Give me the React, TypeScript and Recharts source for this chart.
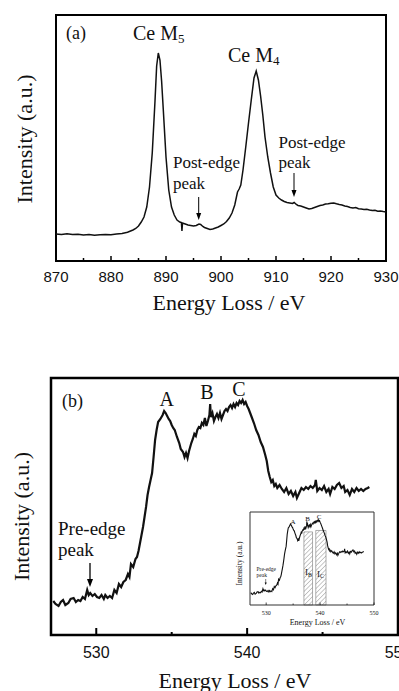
import { LineChart, Line, XAxis, YAxis, ReferenceArea } from "recharts";

// panel (a): Ce M4,5 edge
const aEnergy = [
  870, 871, 872, 873, 874, 875, 876, 877, 878, 879,
  880, 881, 882, 883, 884, 884.5, 885, 885.5, 886, 886.5,
  887, 887.5, 888, 888.3, 888.6, 888.9, 889.2, 889.5, 890, 890.5,
  891, 891.5, 892, 892.5, 892.8, 892.9, 893.0, 893.5, 894, 894.5,
  895, 895.5, 896, 896.3, 896.7, 897, 897.5, 898, 898.5, 899,
  899.5, 900, 900.5, 901, 901.5, 902, 902.5, 903, 903.3, 903.6,
  904, 904.5, 905, 905.5, 906, 906.4, 906.8, 907.2, 907.6, 908,
  908.5, 909, 909.5, 910, 910.5, 911, 911.5, 912, 912.5, 913,
  913.3, 913.7, 914, 914.5, 915, 915.5, 916, 916.5, 917, 917.5,
  918, 918.5, 919, 919.5, 920, 920.5, 921, 921.5, 922, 922.5,
  923, 923.5, 924, 924.5, 925, 925.5, 926, 926.5, 927, 927.5,
  928, 928.5, 929, 929.5, 930,
];
const aIntensity = [
  27, 26.5, 27.2, 26.4, 26.8, 26, 26.5, 25.8, 26.3, 26.6,
  26.2, 27, 27.6, 28.8, 31, 32.5, 35, 39, 44, 54,
  74, 108, 160, 195, 208, 201, 180, 152, 104, 71,
  54, 46, 41, 39, 38.5, 30, 38, 37, 36, 35.5,
  35, 35.5, 37, 36.5, 34.5, 33.5, 32.5, 31.5, 32, 33,
  34, 35.5, 37, 39.5, 43, 48, 56, 69, 72, 76,
  91, 114, 138, 161, 183, 190, 181, 165, 146, 124,
  104, 88, 74, 66, 63, 61, 59.5, 58.5, 58, 57.5,
  58.5, 56.5, 55.5, 55, 54, 53, 52, 52.5, 53.5, 54.5,
  55.5, 56, 57, 57.2, 57.8, 58, 57.2, 56.5, 56, 55,
  54.5, 53.5, 53, 53.5, 52.3, 52, 51.5, 51.8, 51, 50.5,
  50.8, 49.8, 50, 49.4, 49,
];
const aTicks = [870, 875, 880, 885, 890, 895, 900, 905, 910, 915, 920, 925, 930];

// panel (b): O K edge
const bEnergy = [
  527.15, 527.3, 527.5, 527.65, 527.8, 527.95, 528.15, 528.3, 528.5, 528.65,
  528.8, 528.95, 529.1, 529.25, 529.4, 529.5, 529.6, 529.75, 529.9, 530.05,
  530.2, 530.35, 530.5, 530.6, 530.75, 530.9, 531.05, 531.2, 531.35, 531.5,
  531.65, 531.8, 531.95, 532.1, 532.2, 532.3, 532.45, 532.6, 532.7, 532.8,
  532.9, 533.0, 533.1, 533.2, 533.3, 533.4, 533.5, 533.6, 533.7, 533.8,
  533.9, 534.0, 534.1, 534.25, 534.4, 534.5, 534.6, 534.7, 534.8, 534.9,
  535.0, 535.1, 535.2, 535.35, 535.5, 535.6, 535.75, 535.85, 535.95, 536.05,
  536.15, 536.3, 536.4, 536.5, 536.6, 536.7, 536.8, 536.9, 537.0, 537.1,
  537.2, 537.3, 537.4, 537.5, 537.55, 537.6, 537.7, 537.8, 537.9, 538.0,
  538.1, 538.2, 538.3, 538.4, 538.5, 538.6, 538.7, 538.8, 538.9, 539.0,
  539.1, 539.2, 539.3, 539.4, 539.5, 539.6, 539.7, 539.8, 539.9, 540.0,
  540.1, 540.2, 540.3, 540.45, 540.6, 540.75, 540.9, 541.05, 541.2, 541.3,
  541.4, 541.5, 541.6, 541.7, 541.8, 541.9, 542.0, 542.15, 542.3, 542.45,
  542.6, 542.75, 542.9, 543.05, 543.2, 543.3, 543.45, 543.6, 543.75, 543.9,
  544.05, 544.2, 544.35, 544.5, 544.55, 544.65, 544.8, 544.95, 545.1, 545.25,
  545.4, 545.5, 545.65, 545.8, 545.95, 546.1, 546.25, 546.4, 546.5, 546.65,
  546.8, 546.95, 547.1, 547.25, 547.4, 547.55, 547.7, 547.85, 548.0, 548.1,
];
const bIntensity = [
  34, 31, 29, 33, 35, 30, 32, 36, 37, 33,
  35, 34, 38, 36, 45, 40, 42, 39, 41, 38,
  37, 40, 36, 40, 37, 39, 37, 45, 42, 51,
  48, 53, 55, 61, 58, 71, 68, 76, 78, 84,
  92, 100, 108, 118, 128, 140, 148, 155, 162, 178,
  195, 205, 213, 216, 220, 224, 222, 219, 216, 214,
  210, 207, 205, 198, 192, 186, 183, 178, 182, 177,
  184, 192, 196, 201, 199, 205, 208, 207, 212, 210,
  217, 209, 214, 220, 231, 218, 222, 214, 218, 221,
  217, 222, 216, 220, 224, 226, 224, 228, 230, 227,
  231, 228, 232, 230, 234, 232, 235, 231, 233, 229,
  226, 222, 218, 212, 205, 200, 193, 188, 180, 174,
  164, 158, 153, 155, 149, 151, 147, 150, 146, 143,
  147, 141, 144, 139, 143, 137, 142, 147, 145, 148,
  146, 149, 147, 150, 155, 144, 147, 145, 149, 143,
  146, 141, 148, 146, 150, 152, 147, 149, 143, 145,
  140, 146, 143, 147, 144, 146, 144, 146, 147, 148,
];
const bTicks = [530, 535, 540, 545, 550];
const insetTicks = [530, 535, 540, 545, 550];

// integration windows shown in the inset
const bandNames = ["B", "C"];
const bandStart = [537.0, 539.2];
const bandEnd = [538.6, 541.1];
const bandTop = [202, 206];

const aData = aEnergy.map((e, i) => ({ e, v: aIntensity[i] }));
const bData = bEnergy.map((e, i) => ({ e, v: bIntensity[i] }));

const SERIF = "'Liberation Serif', 'Times New Roman', serif";
const SANS = "'Liberation Sans', Arial, sans-serif";

function makeTick(opts: { majorEvery: number; major: number; minor: number; gap: number; size: number; family: string; width: number }) {
  return (props: any) => {
    const { x, y, payload } = props;
    const isMajor = payload.value % opts.majorEvery === 0;
    return (
      <g>
        <line x1={x} x2={x} y1={y} y2={y - (isMajor ? opts.major : opts.minor)} stroke="#000" strokeWidth={opts.width} />
        {isMajor && (
          <text x={x} y={y + opts.gap} textAnchor="middle" fontSize={opts.size} fontFamily={opts.family} fill="#111">
            {payload.value}
          </text>
        )}
      </g>
    );
  };
}

const Arrow = ({ x, y1, y2, w = 5, h = 7, sw = 1 }: any) => (
  <g>
    <line x1={x} x2={x} y1={y1} y2={y2 - h + 1} stroke="#000" strokeWidth={sw} />
    <polygon points={`${x - w / 2},${y2 - h} ${x + w / 2},${y2 - h} ${x},${y2}`} fill="#000" />
  </g>
);

export default function App() {
  return (
    <div style={{ position: "fixed", left: 0, top: 0, width: 399, height: 691, overflow: "hidden", background: "#fff" }}>
      {/* (a) */}
      <div style={{ position: "absolute", left: 0, top: 0, width: 399, height: 320 }}>
        <LineChart width={399} height={320} data={aData} margin={{ top: 15, right: 13, bottom: 58, left: 56 }}>
          <XAxis
            dataKey="e" type="number" domain={[870, 930]} ticks={aTicks} interval={0}
            height={1} tickSize={0} tickMargin={0} axisLine={false} tickLine={false}
            tick={makeTick({ majorEvery: 10, major: 5, minor: 3, gap: 21, size: 15, family: SANS, width: 1.5 })}
          />
          <YAxis type="number" domain={[0, 246]} hide width={0} />
          <ReferenceArea x1={870} x2={930} y1={0} y2={246} fill="none" stroke="#000" strokeWidth={2} />
          <Line dataKey="v" type="linear" stroke="#111" strokeWidth={1.5} dot={false} isAnimationActive={false} />
        </LineChart>
      </div>

      {/* (b) */}
      <div style={{ position: "absolute", left: 0, top: 330, width: 420, height: 361 }}>
        <LineChart width={420} height={361} data={bData} margin={{ top: 48, right: 22, bottom: 55, left: 51 }}>
          <XAxis
            dataKey="e" type="number" domain={[527, 550]} ticks={bTicks} interval={0}
            height={1} tickSize={0} tickMargin={0} axisLine={false} tickLine={false}
            tick={makeTick({ majorEvery: 10, major: 7, minor: 3, gap: 22.5, size: 16, family: SANS, width: 2 })}
          />
          <YAxis type="number" domain={[0, 257]} hide width={0} />
          <ReferenceArea x1={527} x2={550} y1={0} y2={257} fill="none" stroke="#000" strokeWidth={2.5} />
          <Line dataKey="v" type="linear" stroke="#111" strokeWidth={2.2} dot={false} isAnimationActive={false} />
        </LineChart>
      </div>

      {/* inset */}
      <div style={{ position: "absolute", left: 232, top: 500, width: 158, height: 130 }}>
        <LineChart width={158} height={130} data={bData} margin={{ top: 12, right: 16, bottom: 24, left: 18 }}>
          <defs>
            <pattern id="hatch" patternUnits="userSpaceOnUse" width="3.2" height="3.2" patternTransform="rotate(45)">
              <line x1="0" y1="0" x2="0" y2="3.2" stroke="#777" strokeWidth="0.8" />
            </pattern>
          </defs>
          <XAxis
            dataKey="e" type="number" domain={[527, 550]} ticks={insetTicks} interval={0}
            height={1} tickSize={0} tickMargin={0} axisLine={false} tickLine={false}
            tick={makeTick({ majorEvery: 10, major: 2.5, minor: 1.5, gap: 10, size: 6, family: SERIF, width: 0.7 })}
          />
          <YAxis type="number" domain={[0, 257]} hide width={0} />
          {bandNames.map((n, i) => (
            <ReferenceArea key={n} x1={bandStart[i]} x2={bandEnd[i]} y1={0} y2={bandTop[i]}
              fill="url(#hatch)" fillOpacity={1} stroke="#777" strokeWidth={0.6} />
          ))}
          <ReferenceArea x1={527} x2={550} y1={0} y2={257} fill="none" stroke="#333" strokeWidth={1} />
          <Line dataKey="v" type="linear" stroke="#111" strokeWidth={1.1} dot={false} isAnimationActive={false} />
        </LineChart>
      </div>

      {/* annotations */}
      <svg width={399} height={691} style={{ position: "absolute", left: 0, top: 0, pointerEvents: "none" }} fontFamily={SERIF} fill="#111">
        {/* (a) */}
        <text x={66} y={39} fontSize={18}>(a)</text>
        <text x={133} y={40} fontSize={20}>Ce M<tspan fontSize={13} dy={3}>5</tspan></text>
        <text x={228} y={62} fontSize={20}>Ce M<tspan fontSize={13} dy={3}>4</tspan></text>
        <text x={173} y={168} fontSize={17}>Post-edge</text>
        <text x={173} y={188.5} fontSize={17}>peak</text>
        <Arrow x={198.7} y1={197} y2={220} />
        <text x={278.5} y={147.5} fontSize={17}>Post-edge</text>
        <text x={278.5} y={168} fontSize={17}>peak</text>
        <Arrow x={294} y1={173} y2={197} />
        <text transform="translate(32,139) rotate(-90)" textAnchor="middle" fontSize={22}>Intensity (a.u.)</text>
        <text x={229} y={309.5} textAnchor="middle" fontSize={22}>Energy Loss / eV</text>

        {/* (b) */}
        <text x={62} y={407} fontSize={18}>(b)</text>
        <text x={166.7} y={406} textAnchor="middle" fontSize={20}>A</text>
        <text x={207} y={399} textAnchor="middle" fontSize={20}>B</text>
        <text x={239} y={396} textAnchor="middle" fontSize={20}>C</text>
        <text x={58} y={535} fontSize={19}>Pre-edge</text>
        <text x={58} y={556} fontSize={19}>peak</text>
        <Arrow x={90} y1={563} y2={587} w={6} h={8} sw={1.3} />
        <text transform="translate(29,516.5) rotate(-90)" textAnchor="middle" fontSize={22}>Intensity (a.u.)</text>
        <text x={235} y={687.5} textAnchor="middle" fontSize={22}>Energy Loss / eV</text>

        {/* inset */}
        <text x={293} y={523.5} textAnchor="middle" fontSize={7}>A</text>
        <text x={307.5} y={520.7} textAnchor="middle" fontSize={7}>B</text>
        <text x={319} y={519} textAnchor="middle" fontSize={7}>C</text>
        <text x={305} y={575} fontSize={9}>I<tspan fontSize={6} dy={1.5}>B</tspan></text>
        <text x={317} y={576.7} fontSize={9}>I<tspan fontSize={6} dy={1.5}>C</tspan></text>
        <text x={256.5} y={571} fontSize={5.5}>Pre-edge</text>
        <text x={256.5} y={577} fontSize={5.5}>peak</text>
        <Arrow x={265.7} y1={579} y2={585} w={2} h={2.5} sw={0.5} />
        <text x={317.5} y={625} textAnchor="middle" fontSize={8}>Energy Loss / eV</text>
        <text transform="translate(242,563.5) rotate(-90)" textAnchor="middle" fontSize={7.5}>Intensity (a.u.)</text>
      </svg>
    </div>
  );
}
